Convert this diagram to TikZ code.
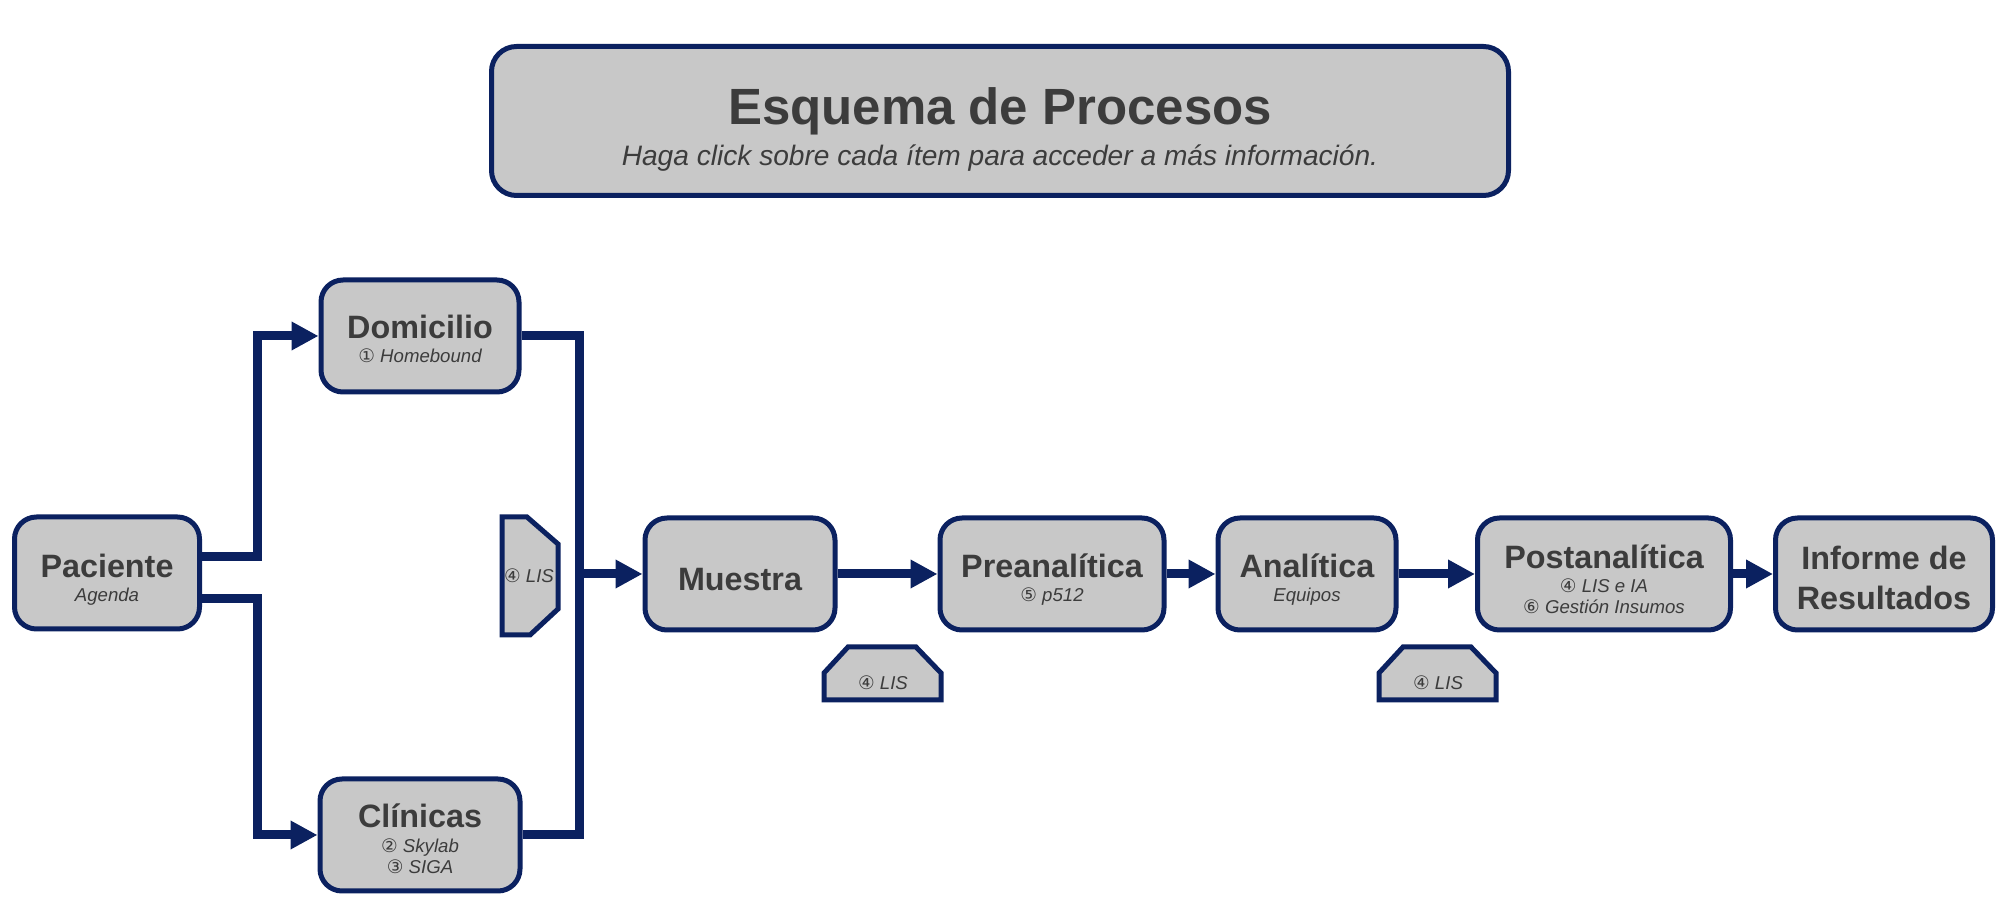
\documentclass[tikz,border=0pt]{standalone}
\usepackage{fontspec}
\setmainfont{Liberation Sans}
\newfontfamily\circulo{DejaVu Sans}
\usepackage{tikz}
\usetikzlibrary{shapes,arrows.meta,positioning}
\definecolor{azul}{RGB}{11,33,96}
\definecolor{gris}{RGB}{200,200,200}
\definecolor{texto}{RGB}{60,60,60}
\newcommand{\cnum}[1]{{\circulo\upshape #1}}
\newcommand{\titulo}[1]{{\fontsize{9.2}{11}\selectfont\bfseries\upshape #1}}

\begin{document}
\begin{tikzpicture}[x=0.1mm,y=-0.1mm,
	caja/.style={draw=azul,fill=gris,line width=0.5mm,rounded corners=2.2mm,text=texto,
		align=center,inner sep=0pt,minimum height=11.2mm,text depth=0pt,text height=5.5mm,
		font=\fontsize{5.3}{6.2}\selectfont\itshape},
	lis/.style={draw=azul,fill=gris,line width=0.5mm},
	etiqueta/.style={text=texto,inner sep=0pt,font=\fontsize{5.3}{6.2}\selectfont\itshape},
	conector/.style={draw=azul,line width=0.9mm},
	flecha/.style={-{Triangle[length=2.7mm,width=2.7mm]}}]
	\useasboundingbox (0,0) rectangle (2006,912);

	\node[caja,minimum width=101.7mm,minimum height=14.9mm,rounded corners=2.5mm,text height=8.9mm,
		font=\fontsize{8}{9.6}\selectfont\itshape] (titulo) at (1000,121)
		{{\fontsize{14.5}{17}\selectfont\bfseries\upshape Esquema de Procesos}\\[2pt]
		Haga click sobre cada ítem para acceder a más información.};

	\node[caja,minimum width=18.5mm,text height=5.7mm] (pac) at (107,573) {\titulo{Paciente}\\[0.7pt] Agenda};
	\node[caja,minimum width=19.8mm,text height=5.3mm] (dom) at (420,336) {\titulo{Domicilio}\\[0.7pt] \cnum{①} Homebound};
	\node[caja,minimum width=20mm,text height=7.8mm] (cli) at (420,835) {\titulo{Clínicas}\\[0.7pt] \cnum{②} Skylab\\ \cnum{③} SIGA};
	\node[caja,minimum width=19mm,text height=3.3mm] (mue) at (740,574) {\titulo{Muestra}};
	\node[caja,minimum width=22.4mm] (pre) at (1052,574) {\titulo{Preanalítica}\\[0.7pt] \cnum{⑤} p512};
	\node[caja,minimum width=17.8mm] (ana) at (1307,574) {\titulo{Analítica}\\[0.7pt] Equipos};
	\node[caja,minimum width=25.3mm,text height=8mm] (post) at (1604,574) {\titulo{Postanalítica}\\[0.5pt] \cnum{④} LIS e IA\\ \cnum{⑥} Gestión Insumos};
	\node[caja,minimum width=21.7mm,text height=7.1mm,font=\fontsize{9.2}{11.5}\selectfont\bfseries] (inf) at (1884,574) {Informe de\\Resultados};

	\draw[lis] (502,517) -- (527,517) -- (558,544) -- (558,609) -- (530,635) -- (502,635) -- cycle;
	\node[etiqueta] (lisA) at (529,576) {\cnum{④} LIS};
	\foreach \dx/\nombre in {0/lisB,555/lisC}{
		\draw[lis,shift={(\dx,0)}] (824,700) -- (824,673) -- (848,647) -- (916,647) -- (941,673) -- (941,700) -- cycle;
		\node[etiqueta] (\nombre) at (\dx+883,683) {\cnum{④} LIS};
	}

	\draw[conector,flecha] ([yshift=1.6mm]pac.east) -- ++(55,0) |- (dom.west);
	\draw[conector,flecha] ([yshift=-2.6mm]pac.east) -- ++(55,0) |- (cli.west);
	\draw[conector] (dom.east) -- ++(58,0) |- (cli.east);
	\coordinate (union) at (577,574);
	\draw[conector,flecha] (union) -- (mue.west);
	\foreach \a/\b in {mue/pre,pre/ana,ana/post,post/inf}
		\draw[conector,flecha] (\a.east) -- (\b.west);
\end{tikzpicture}
\end{document}
